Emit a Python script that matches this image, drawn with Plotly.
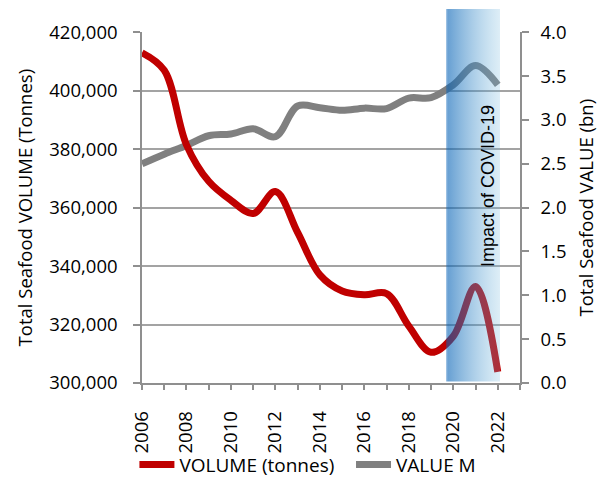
import plotly.graph_objects as go

# Annual totals
years = list(range(2006, 2023))
volume_tonnes = [413000, 407000, 381500, 369000, 362500, 358000, 365500, 351500,
                 337000, 331500, 330200, 330600, 319500, 310500, 316000, 333000, 303800]
value_bn = [2.50, 2.61, 2.71, 2.82, 2.84, 2.90, 2.81, 3.16, 3.14, 3.11, 3.135,
            3.13, 3.25, 3.255, 3.40, 3.62, 3.40]

# Axis ticks
x_tick_years = list(range(2006, 2024))
x_tick_labels = [str(y) if (y % 2 == 0 and y <= 2022) else "" for y in x_tick_years]

# COVID-19 period highlight
covid_start, covid_end = 2019.68, 2022.1
covid_label = "Impact of COVID-19"

FONT = "Open Sans"
TEXT = "#000000"
AXIS = "#8f8f8f"
GRID = "#a3a3a3"

W, H = 611, 479
ML, MR, MT, MB = 142, 91, 9, 96
plot_h = H - MT - MB
dtop = (383 - 32.3) / plot_h  # data axes stop below the top of the band

fig = go.Figure()

fig.add_trace(go.Scatter(
    x=years, y=value_bn, name="VALUE M", mode="lines",
    line=dict(color="#808080", width=7, shape="spline", smoothing=1.0),
    yaxis="y", legend="legend2",
))
fig.add_trace(go.Scatter(
    x=years, y=volume_tonnes, name="VOLUME (tonnes)", mode="lines",
    line=dict(color="#c00000", width=7, shape="spline", smoothing=1.0),
    yaxis="y2", legend="legend",
))

# translucent gradient band drawn over the lines
fig.add_trace(go.Scatter(
    x=[covid_start, covid_end, covid_end, covid_start, covid_start],
    y=[0.004, 0.004, 1, 1, 0.004],
    yaxis="y3", mode="lines", line=dict(width=0),
    fill="toself",
    fillgradient=dict(
        type="horizontal",
        colorscale=[[0.0, "rgba(10,100,185,0.48)"],
                    [0.04, "rgba(5,98,182,0.6)"],
                    [1.0, "rgba(120,186,222,0.25)"]],
    ),
    showlegend=False, hoverinfo="skip",
))

fig.add_annotation(
    text=covid_label, textangle=-90,
    x=2021.56, xref="x", y=(383 - 186) / plot_h, yref="paper",
    showarrow=False, font=dict(family="Liberation Sans", size=18, color=TEXT),
)

legend_common = dict(orientation="h", xref="container", xanchor="left",
                     yref="container", y=0.03, yanchor="middle",
                     font=dict(family=FONT, size=19, color=TEXT),
                     itemwidth=35, bgcolor="rgba(0,0,0,0)")

fig.update_layout(
    width=W, height=H,
    margin=dict(l=ML, r=MR, t=MT, b=MB, autoexpand=False),
    paper_bgcolor="white", plot_bgcolor="rgba(0,0,0,0)",
    font=dict(family=FONT, size=18.5, color=TEXT),
    showlegend=True,
    legend=dict(x=0.22, **legend_common),
    legend2=dict(x=0.5745, **legend_common),
    xaxis=dict(
        range=[2006, 2023], tickmode="array", tickvals=x_tick_years, ticktext=x_tick_labels,
        tickangle=-90, showgrid=False, zeroline=False,
        showline=True, linecolor=AXIS, linewidth=1.5,
        ticks="outside", ticklen=5, tickcolor=AXIS, tickwidth=1.5,
        ticklabelstandoff=14, anchor="y",
    ),
    yaxis=dict(
        domain=[0, dtop], range=[0, 4], dtick=0.5, tickformat=".1f",
        side="right", anchor="x", showgrid=False, zeroline=False,
        showline=True, linecolor=AXIS, linewidth=1.5,
        ticks="outside", ticklen=7, tickcolor=AXIS, tickwidth=1.5,
        ticklabelstandoff=8,
        title=dict(text="Total Seafood VALUE (bn)", standoff=15,
                   font=dict(family=FONT, size=18.5, color=TEXT)),
    ),
    yaxis2=dict(
        overlaying="y", side="left", anchor="x",
        range=[300000, 420000], dtick=20000, tickformat=",d",
        showgrid=True, gridcolor=GRID, gridwidth=1.5, zeroline=False,
        showline=True, linecolor=AXIS, linewidth=1.5,
        ticks="outside", ticklen=7, tickcolor=AXIS, tickwidth=1.5,
        ticklabelstandoff=12,
        title=dict(text="Total Seafood VOLUME (Tonnes)", standoff=12,
                   font=dict(family=FONT, size=18.5, color=TEXT)),
    ),
    yaxis3=dict(domain=[0, 1], range=[0, 1], anchor="x", visible=False, fixedrange=True),
)

fig.write_html("out.html")
